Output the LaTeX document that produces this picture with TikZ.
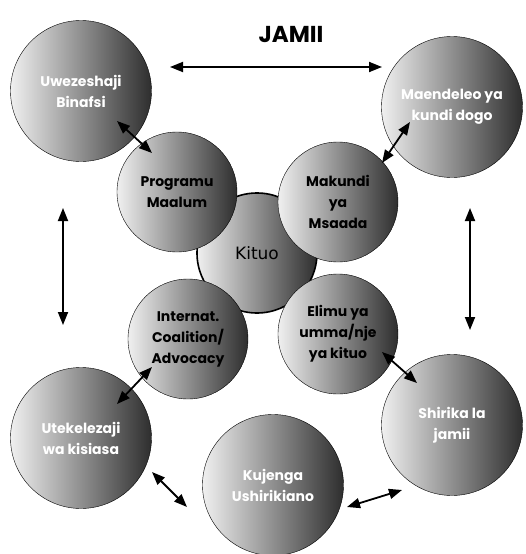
\documentclass[tikz,border=0pt]{standalone}
\usepackage{fontspec}
\setmainfont{Poppins}
\newfontfamily\kitfont{DejaVu Sans}
\usetikzlibrary{arrows.meta}

\begin{document}
\begin{tikzpicture}
[x=1pt,y=-1pt,<->,>={Triangle[length=13pt,width=10pt]},
ball/.style={circle,draw=black,thin,inner sep=0pt,left color=black!6,right color=black!82,align=center,font=\bfseries\fontsize{14}{21}\selectfont},
outer/.style={ball,minimum size=141pt,text=white},
inner/.style={ball,minimum size=120pt,text=black},
link/.style={line width=1.8pt}]
\useasboundingbox (0,0) rectangle (526,554);

\node[inner,line width=1.6pt,font=\kitfont\fontsize{17}{20}\selectfont] (kit) at (257,253) {Kituo};

\node[outer] (uwe) at (81,91) {Uwezeshaji\\Binafsi};
\node[outer] (mae) at (452,107) {Maendeleo ya\\kundi dogo};
\node[inner] (prog) at (177,192) {Programu\\Maalum};
\node[inner] (mak) at (338,202) {Makundi\\ya\\Msaada};
\node[inner] (intl) at (188,339) {Internat.\\Coalition/\\Advocacy};
\node[inner] (eli) at (338,334) {Elimu ya\\umma/nje\\ya kituo};
\node[outer] (ute) at (81,438) {Utekelezaji\\wa kisiasa};
\node[outer] (shi) at (452,425) {Shirika la\\jamii};
\node[outer] (kuj) at (273,485) {Kujenga\\Ushirikiano};

\node[font=\bfseries\fontsize{23}{26}\selectfont] (jamii) at (291,35) {JAMII};

\coordinate (jamL) at (170,67);
\coordinate (jamR) at (382,67);
\coordinate (leftT) at (63,208);
\coordinate (leftB) at (63,325);
\coordinate (rightT) at (470,208);
\coordinate (rightB) at (470,330);
\coordinate (uteK) at (152,472);
\coordinate (kujU) at (187,507);
\coordinate (kujS) at (347,507);
\coordinate (shiK) at (402,490);

\draw[link] (jamL) -- (jamR);
\draw[link] (leftT) -- (leftB);
\draw[link] (rightT) -- (rightB);
\draw[link] ([shift={(36,30)}]uwe.center) -- ([shift={(-25,-39)}]prog.center);
\draw[link] ([shift={(-42,15)}]mae.center) -- ([shift={(44,-39)}]mak.center);
\draw[link] ([shift={(-36,28)}]intl.center) -- ([shift={(36,-34)}]ute.center);
\draw[link] ([shift={(44,18)}]eli.center) -- ([shift={(-35,-42)}]shi.center);
\draw[link] (uteK) -- (kujU);
\draw[link] (kujS) -- (shiK);
\end{tikzpicture}
\end{document}
